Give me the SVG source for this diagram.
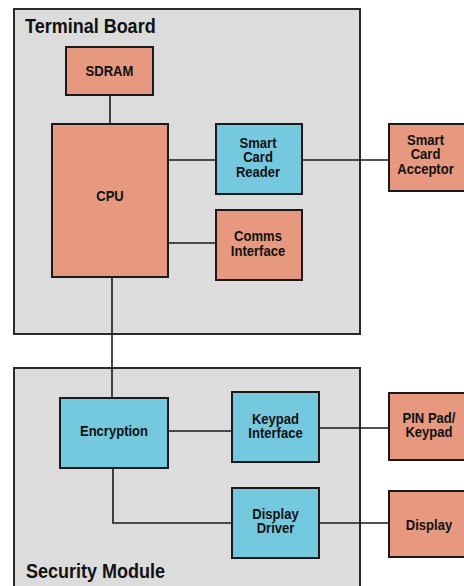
<svg xmlns="http://www.w3.org/2000/svg" width="464" height="586" viewBox="0 0 464 586">
<style>
.panel{fill:#dcdcdc;stroke:#2a2a2a;stroke-width:2}
.org{fill:#e6997e;stroke:#1a1a1a;stroke-width:2}
.cyan{fill:#75c9df;stroke:#1a1a1a;stroke-width:2}
.wire{fill:none;stroke:#1a1a1a;stroke-width:1.6}
.lbl{font-family:"Liberation Sans",Arial,sans-serif;font-weight:bold;font-size:14.5px;fill:#111;text-anchor:middle}
.ttl{font-family:"Liberation Sans",Arial,sans-serif;font-weight:bold;font-size:20px;fill:#111}
</style>
<rect width="464" height="586" fill="#ffffff"/>
<g id="terminal-board">
<rect class="panel" x="14" y="9" width="346" height="325"/>
<text class="ttl" transform="translate(25,33) scale(0.9,1)">Terminal Board</text>
</g>
<g id="security-module">
<rect class="panel" x="14" y="368" width="346" height="230"/>
<text class="ttl" transform="translate(26,578) scale(0.9,1)">Security Module</text>
</g>
<g id="connectors">
<line class="wire" x1="110" y1="95" x2="110" y2="124"/>
<line class="wire" x1="168" y1="160" x2="216" y2="160"/>
<line class="wire" x1="302" y1="160" x2="389" y2="160"/>
<line class="wire" x1="168" y1="243" x2="216" y2="243"/>
<line class="wire" x1="112" y1="277" x2="112" y2="398"/>
<line class="wire" x1="168" y1="431" x2="232" y2="431"/>
<polyline class="wire" points="113,468 113,523 232,523"/>
<line class="wire" x1="319" y1="428" x2="389" y2="428"/>
<line class="wire" x1="319" y1="523" x2="389" y2="523"/>
</g>
<g id="sdram">
<rect class="org" x="66" y="47" width="87" height="48"/>
<text class="lbl" transform="translate(109.5,76) scale(0.9,1)">SDRAM</text>
</g>
<g id="cpu">
<rect class="org" x="52" y="124" width="116" height="153"/>
<text class="lbl" transform="translate(110,201) scale(0.9,1)">CPU</text>
</g>
<g id="smart-card-reader">
<rect class="cyan" x="216" y="124" width="86" height="70"/>
<text class="lbl" transform="translate(258,148) scale(0.9,1)"><tspan x="0" y="0">Smart</tspan><tspan x="0" y="14.5">Card</tspan><tspan x="0" y="29.5">Reader</tspan></text>
</g>
<g id="comms-interface">
<rect class="org" x="216" y="210" width="86" height="70"/>
<text class="lbl" transform="translate(258,241) scale(0.9,1)"><tspan x="0" y="0">Comms</tspan><tspan x="0" y="15">Interface</tspan></text>
</g>
<g id="smart-card-acceptor">
<rect class="org" x="389" y="124" width="80" height="67"/>
<text class="lbl" transform="translate(425.5,145) scale(0.9,1)"><tspan x="0" y="0">Smart</tspan><tspan x="0" y="14.5">Card</tspan><tspan x="0" y="29">Acceptor</tspan></text>
</g>
<g id="encryption">
<rect class="cyan" x="60" y="398" width="108" height="70"/>
<text class="lbl" transform="translate(114,436) scale(0.9,1)">Encryption</text>
</g>
<g id="keypad-interface">
<rect class="cyan" x="232" y="392" width="87" height="70"/>
<text class="lbl" transform="translate(275.5,424) scale(0.9,1)"><tspan x="0" y="0">Keypad</tspan><tspan x="0" y="14.5">Interface</tspan></text>
</g>
<g id="display-driver">
<rect class="cyan" x="232" y="488" width="87" height="70"/>
<text class="lbl" transform="translate(275.5,519) scale(0.9,1)"><tspan x="0" y="0">Display</tspan><tspan x="0" y="14.5">Driver</tspan></text>
</g>
<g id="pin-pad">
<rect class="org" x="389" y="393" width="80" height="67"/>
<text class="lbl" transform="translate(429,423) scale(0.9,1)"><tspan x="0" y="0">PIN Pad/</tspan><tspan x="0" y="14.5">Keypad</tspan></text>
</g>
<g id="display">
<rect class="org" x="389" y="491" width="80" height="66"/>
<text class="lbl" transform="translate(429,530) scale(0.9,1)">Display</text>
</g>
</svg>
